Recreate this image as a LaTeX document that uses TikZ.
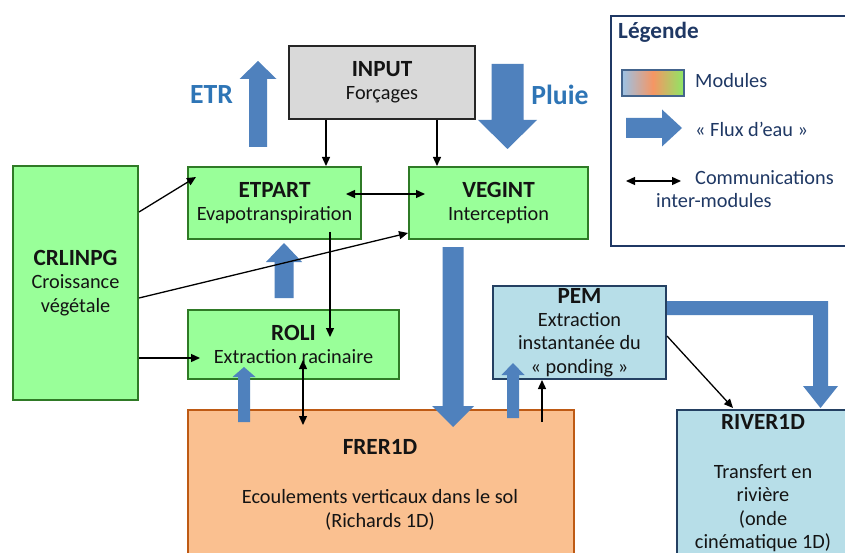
\documentclass[tikz,border=0pt]{standalone}
\usepackage{fontspec}
\setmainfont{Carlito}
\usetikzlibrary{calc,arrows.meta}
\definecolor{gfill}{RGB}{153,255,153}
\definecolor{gline}{RGB}{47,122,38}
\definecolor{ofill}{RGB}{250,192,144}
\definecolor{oline}{RGB}{190,90,20}
\definecolor{bfill}{RGB}{183,222,232}
\definecolor{bline}{RGB}{36,64,98}
\definecolor{grfill}{RGB}{217,217,217}
\definecolor{grline}{RGB}{38,38,38}
\definecolor{flux}{RGB}{79,129,189}
\definecolor{lbl}{RGB}{46,117,182}
\definecolor{navy}{RGB}{31,56,100}
\definecolor{txt}{RGB}{20,20,20}
\definecolor{swl}{RGB}{155,194,230}
\definecolor{swm}{RGB}{245,150,100}
\definecolor{swr}{RGB}{140,232,100}
\definecolor{swb}{RGB}{68,100,140}
\newcommand\txtR{\fontsize{20.3}{23.4}\selectfont\mdseries}
\newcommand\txtB{\fontsize{23.2}{25}\selectfont\bfseries}
\newcommand\fatv[6]{\fill[flux] ({#1-#5},#2) -- ({#1-#5},#3) -- ({#1-#6},#3) -- (#1,#4) -- ({#1+#6},#3) -- ({#1+#5},#3) -- ({#1+#5},#2) -- cycle;}
\newcommand\fath[6]{\fill[flux] (#2,{#1-#5}) -- (#3,{#1-#5}) -- (#3,{#1-#6}) -- (#4,#1) -- (#3,{#1+#6}) -- (#3,{#1+#5}) -- (#2,{#1+#5}) -- cycle;}
\tikzset{
  box/.style={draw, line width=2pt, inner sep=0pt, anchor=north west, align=center, text=txt, font=\txtR},
  gbox/.style={box, fill=gfill, draw=gline},
  conn/.style={-{Triangle[length=9pt,width=8pt]}, line width=1.3pt, draw=black},
  biconn/.style={{Triangle[length=9pt,width=8pt]}-{Triangle[length=9pt,width=8pt]}, line width=1.3pt, draw=black},
  lgtext/.style={anchor=west, inner sep=0pt, font=\txtR, text=navy},
  plain/.style={inner sep=0pt, text=txt, align=center}
}
\begin{document}
\begin{tikzpicture}[x=1pt,y=-1pt]
\useasboundingbox (0,0) rectangle (845,553);
\clip (0,0) rectangle (845,553);
\fill[white] (0,0) rectangle (845,553);

% legend
\node[draw=navy, line width=2pt, minimum width=240pt, minimum height=230pt, anchor=north west, inner sep=0pt] (legend) at (610,15) {};
\node[anchor=west, inner sep=0pt, font=\txtB, text=navy] (legtitle) at (618,32) {Légende};
\node[draw=swb, line width=2pt, left color=swl, right color=swr, middle color=swm, minimum width=62pt, minimum height=26pt, anchor=north west, inner sep=0pt] (swatch) at (621,69) {};
\node[lgtext] (lmod) at (695,81) {Modules};
\fath{128}{626}{662}{682}{10}{18.5}
\node[lgtext] (lflux) at (695,129) {«~Flux d’eau~»};
\coordinate (la1) at (626,181);
\coordinate (la2) at (681,181);
\draw[biconn] (la1) -- (la2);
\node[lgtext] (lcom1) at (695,178) {Communications};
\node[lgtext] (lcom2) at (656,201) {inter-modules};

% boxes
\node[box, fill=grfill, draw=grline, minimum width=186pt, minimum height=73pt] (input) at (288,45) {\txtB INPUT\\\txtR Forçages};
\node[gbox, minimum width=173pt, minimum height=72pt] (etpart) at (187,166) {\txtB ETPART\\\txtR Evapotranspiration};
\node[gbox, minimum width=179pt, minimum height=72pt] (vegint) at (408,166) {\txtB VEGINT\\\txtR Interception};
\node[gbox, minimum width=125pt, minimum height=234pt] (crlinpg) at (12,165) {\txtB CRLINPG\\\txtR Croissance\\végétale};
\node[gbox, minimum width=211pt, minimum height=69pt] (roli) at (187,309) {\txtB ROLI\\\txtR Extraction racinaire};
\node[box, fill=bfill, draw=bline, minimum width=173pt, minimum height=93pt] (pem) at (492,285) {\txtB PEM\\\txtR Extraction\\instantanée du\\«~ponding~»};
\node[box, fill=ofill, draw=oline, minimum width=386pt, minimum height=160pt] (frer) at (187,409) {};
\node[box, fill=bfill, draw=bline, minimum width=176pt, minimum height=160pt] (river) at (676,409) {};
\node[plain, font=\txtB] (frertitle) at (380,447) {FRER1D};
\node[plain, font=\txtR] (frerbody) at (380,510) {Ecoulements verticaux dans le sol\\(Richards 1D)};
\node[plain, font=\txtB] (rivertitle) at (763,422) {RIVER1D};
\node[plain, font=\txtR] (riverbody) at (763,508) {Transfert en\\rivière\\(onde\\cinématique 1D)};

% labels
\node[inner sep=0pt, font=\fontsize{27.7}{30}\selectfont\bfseries, text=lbl] (etr) at (211.5,95) {ETR};
\node[inner sep=0pt, font=\fontsize{27.7}{30}\selectfont\bfseries, text=lbl] (pluie) at (560,95) {Pluie};

% water fluxes
\fatv{258}{147}{79}{61}{9}{18.5}
\fatv{507.5}{64}{120}{149}{16}{29.5}
\fatv{284}{298}{262}{243}{9.5}{18}
\fatv{244}{422}{377}{367}{6}{11.5}
\fatv{453}{247}{406}{427}{10.5}{21}
\fatv{513}{418}{375}{363}{6}{11.5}
\fill[flux] (pem.east |- 0,301) -- (828,301) -- (828,386) -- (838,386) -- (820.5,408) -- (803,386) -- (813,386) -- (813,315) -- (pem.east |- 0,315) -- cycle;

% communications
\draw[conn] ($(input.south west)+(38,0)$) -- ($(etpart.north west)+(139,0)$);
\draw[conn] ($(input.south west)+(149,0)$) -- ($(vegint.north west)+(29,0)$);
\draw[biconn] ($(etpart.east)+(-16,-9)$) -- ($(vegint.west)+(17,-9)$);
\draw[conn] ($(crlinpg.north east)+(0,47)$) -- ($(etpart.north west)+(9,11)$);
\draw[conn] ($(crlinpg.east)+(0,15)$) -- ($(vegint.south west)+(0,-7)$);
\draw[conn] ($(crlinpg.east)+(0,75)$) -- ($(roli.west)+(13,13.5)$);
\draw[conn] ($(etpart.south west)+(143,-8)$) -- ($(roli.north west)+(143,28)$);
\draw[biconn] ($(roli.south west)+(116,-20)$) -- ($(frer.north west)+(116,16)$);
\draw[conn] ($(frer.north west)+(355,13)$) -- ($(pem.south west)+(50,0)$);
\draw[conn] ($(pem.east)+(0,3.5)$) -- ($(river.north west)+(57,-1)$);
\end{tikzpicture}
\end{document}
